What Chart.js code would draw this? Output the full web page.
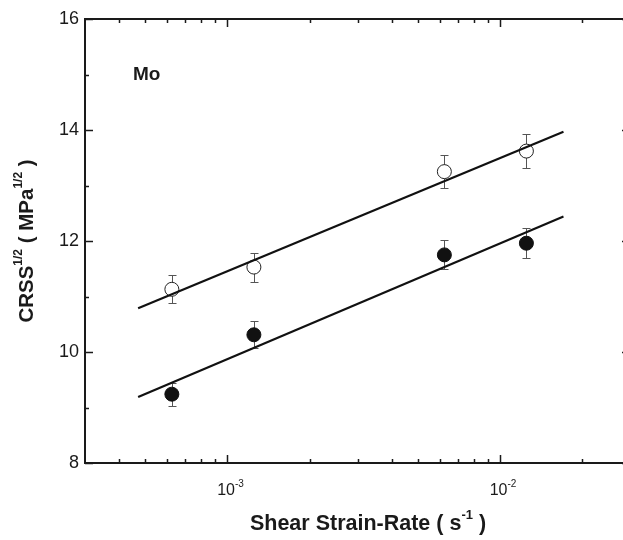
<!DOCTYPE html>
<html>
<head>
<meta charset="utf-8">
<script src="https://cdn.jsdelivr.net/npm/chart.js@4.4.1/dist/chart.umd.min.js"></script>
<style>
  html, body { margin: 0; padding: 0; background: #fff; overflow: hidden; }
  /* the original figure is cut at the right edge, so the canvas is a bit wider than the window */
  #wrap { width: 623px; height: 540px; overflow: hidden; }
  canvas { display: block; }
</style>
</head>
<body>
<div id="wrap"><canvas id="crss" width="640" height="540"></canvas></div>
<script>
// shear strain-rate (s^-1)
const strainRates = [6.25e-4, 1.25e-3, 6.25e-3, 1.25e-2];
// open circles : CRSS^1/2 and error
const openCrss = [11.13, 11.53, 13.25, 13.62];
const openErr = [0.25, 0.26, 0.30, 0.30];
// filled circles
const filledCrss = [9.24, 10.31, 11.75, 11.96];
const filledErr = [0.21, 0.24, 0.26, 0.27];
// fitted lines, end points
const fitRates = [4.7e-4, 1.71e-2];
const openFit = [10.79, 13.97];
const filledFit = [9.19, 12.44];

// ticks
const yMajor = [8, 10, 12, 14, 16];
const yMinor = [9, 11, 13, 15];
const xMajor = [1e-3, 1e-2];
const xMinor = [4e-4, 5e-4, 6e-4, 7e-4, 8e-4, 9e-4, 2e-3, 3e-3, 4e-3, 5e-3, 6e-3, 7e-3, 8e-3, 9e-3, 2e-2];
const xTickExp = ['-3', '-2'];

const FONT = "'Liberation Sans', Arial, Helvetica, sans-serif";
const INK = '#1a1a1a';

// draws text with superscript pieces, parts = [[text, isSup], ...]
function richWidth(ctx, parts, size, weight) {
  let w = 0;
  parts.forEach(function (p) {
    ctx.font = weight + ' ' + (p[1] ? Math.round(size * 0.6) : size) + 'px ' + FONT;
    w += ctx.measureText(p[0]).width;
  });
  return w;
}
function richText(ctx, parts, cx, cy, size, weight) {
  let x = cx - richWidth(ctx, parts, size, weight) / 2;
  ctx.textAlign = 'left';
  ctx.textBaseline = 'middle';
  parts.forEach(function (p) {
    const s = p[1] ? Math.round(size * 0.6) : size;
    ctx.font = weight + ' ' + s + 'px ' + FONT;
    ctx.fillText(p[0], x, p[1] ? cy - size * 0.42 : cy);
    x += ctx.measureText(p[0]).width;
  });
}

const framePlugin = {
  id: 'frame',
  beforeDatasetsDraw(chart) {
    // error bars go under the markers
    const ctx = chart.ctx, xs = chart.scales.x, ys = chart.scales.y;
    ctx.save();
    ctx.strokeStyle = '#555';
    ctx.lineWidth = 1;
    function bars(vals, errs) {
      strainRates.forEach(function (r, i) {
        const px = Math.round(xs.getPixelForValue(r)) + 0.5;
        const top = Math.round(ys.getPixelForValue(vals[i] + errs[i])) + 0.5;
        const bot = Math.round(ys.getPixelForValue(vals[i] - errs[i])) + 0.5;
        ctx.beginPath();
        ctx.moveTo(px, top); ctx.lineTo(px, bot);
        ctx.moveTo(px - 4, top); ctx.lineTo(px + 4, top);
        ctx.moveTo(px - 4, bot); ctx.lineTo(px + 4, bot);
        ctx.stroke();
      });
    }
    bars(openCrss, openErr);
    bars(filledCrss, filledErr);
    ctx.restore();
  },
  afterDraw(chart) {
    const ctx = chart.ctx, xs = chart.scales.x, ys = chart.scales.y;
    const a = chart.chartArea;
    ctx.save();
    ctx.strokeStyle = INK;
    ctx.fillStyle = INK;

    // box
    ctx.lineWidth = 2;
    ctx.strokeRect(a.left, a.top, a.right - a.left, a.bottom - a.top);

    // inward ticks on all four sides
    ctx.lineWidth = 1.5;
    ctx.beginPath();
    function xt(v, len) {
      const px = Math.round(xs.getPixelForValue(v)) + 0.5;
      ctx.moveTo(px, a.bottom); ctx.lineTo(px, a.bottom - len);
      ctx.moveTo(px, a.top); ctx.lineTo(px, a.top + len);
    }
    function yt(v, len) {
      const py = Math.round(ys.getPixelForValue(v)) + 0.5;
      ctx.moveTo(a.left, py); ctx.lineTo(a.left + len, py);
      ctx.moveTo(a.right, py); ctx.lineTo(a.right - len, py);
    }
    xMajor.forEach(function (v) { xt(v, 8); });
    xMinor.forEach(function (v) { xt(v, 4); });
    yMajor.forEach(function (v) { yt(v, 8); });
    yMinor.forEach(function (v) { yt(v, 4); });
    ctx.stroke();

    // x tick labels 10^-3, 10^-2
    xMajor.forEach(function (v, i) {
      richText(ctx, [['10', false], [xTickExp[i], true]], xs.getPixelForValue(v) + 3, 491, 16, 'normal');
    });

    // Mo
    ctx.font = 'bold 19px ' + FONT;
    ctx.textAlign = 'left';
    ctx.textBaseline = 'middle';
    ctx.fillText('Mo', xs.getPixelForValue(4.5e-4), ys.getPixelForValue(15));

    // axis titles (x title sits a little right of the box centre in the original)
    richText(ctx, [['Shear Strain-Rate ( s', false], ['-1', true], [' )', false]], 368, 524, 21.5, 'bold');
    ctx.translate(27, (a.top + a.bottom) / 2);
    ctx.rotate(-Math.PI / 2);
    richText(ctx, [['CRSS', false], ['1/2', true], [' ( MPa', false], ['1/2', true], [' )', false]], 0, 0, 20.5, 'bold');
    ctx.restore();
  }
};

new Chart(document.getElementById('crss'), {
  type: 'scatter',
  data: {
    datasets: [
      {
        label: 'fit open',
        data: fitRates.map(function (r, i) { return { x: r, y: openFit[i] }; }),
        showLine: true, borderColor: '#111', borderWidth: 2.2, pointRadius: 0, order: 0
      },
      {
        label: 'fit filled',
        data: fitRates.map(function (r, i) { return { x: r, y: filledFit[i] }; }),
        showLine: true, borderColor: '#111', borderWidth: 2.2, pointRadius: 0, order: 0
      },
      {
        label: 'open',
        data: strainRates.map(function (r, i) { return { x: r, y: openCrss[i] }; }),
        pointRadius: 7, pointBackgroundColor: '#fff', pointBorderColor: '#222', pointBorderWidth: 1, order: 1
      },
      {
        label: 'filled',
        data: strainRates.map(function (r, i) { return { x: r, y: filledCrss[i] }; }),
        pointRadius: 7, pointBackgroundColor: '#111', pointBorderColor: '#111', pointBorderWidth: 1, order: 1
      }
    ]
  },
  options: {
    responsive: false,
    animation: false,
    devicePixelRatio: 1,
    layout: { padding: { top: 19, right: 10, left: 0, bottom: 0 } },
    plugins: { legend: { display: false }, tooltip: { enabled: false } },
    scales: {
      x: {
        type: 'logarithmic', min: 3e-4, max: 3e-2,
        grid: { display: false, drawTicks: false },
        border: { display: false },
        ticks: { display: false },
        afterFit: function (s) { s.height = 77; }
      },
      y: {
        min: 8, max: 16,
        grid: { display: false, drawTicks: false },
        border: { display: false },
        ticks: { stepSize: 2, padding: 6, color: INK, font: { family: FONT, size: 18 } },
        afterFit: function (s) { s.width = 85; }
      }
    }
  },
  plugins: [framePlugin]
});
</script>
</body>
</html>
